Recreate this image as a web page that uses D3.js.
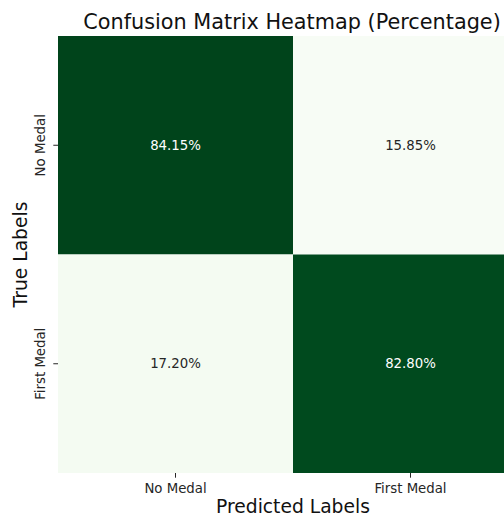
<!DOCTYPE html>
<html>
<head>
<meta charset="utf-8">
<script src="https://cdn.jsdelivr.net/npm/d3@7"></script>
<style>
  body { margin: 0; background: #fff; }
  text { font-family: "DejaVu Sans", sans-serif; }
</style>
</head>
<body>
<div id="chart"></div>
<script>
// DATA
const trueLabels = ["No Medal", "First Medal"];
const predLabels = ["No Medal", "First Medal"];
const percentages = [
  [84.15, 15.85],
  [17.20, 82.80]
];

// CONSTANTS
const WIDTH = 504;
const HEIGHT = 517;
const margin = { top: 36, left: 58 };
const plotW = 470;
const plotH = 437;

const cells = [];
trueLabels.forEach((t, i) => {
  predLabels.forEach((p, j) => {
    cells.push({ row: t, col: p, value: percentages[i][j] });
  });
});

const svg = d3.select("#chart")
  .append("svg")
  .attr("width", WIDTH)
  .attr("height", HEIGHT);

const x = d3.scaleBand().domain(predLabels).range([margin.left, margin.left + plotW]);
const y = d3.scaleBand().domain(trueLabels).range([margin.top, margin.top + plotH]);

const allVals = percentages.flat();
const color = d3.scaleSequential(d3.interpolateGreens)
  .domain([d3.min(allVals), d3.max(allVals)]);

svg.append("g")
  .selectAll("rect")
  .data(cells)
  .enter()
  .append("rect")
  .attr("x", d => x(d.col))
  .attr("y", d => y(d.row))
  .attr("width", x.bandwidth())
  .attr("height", y.bandwidth())
  .attr("fill", d => color(d.value));

svg.append("g")
  .selectAll("text")
  .data(cells)
  .enter()
  .append("text")
  .attr("x", d => x(d.col) + x.bandwidth() / 2)
  .attr("y", d => y(d.row) + y.bandwidth() / 2)
  .attr("text-anchor", "middle")
  .attr("dominant-baseline", "central")
  .attr("font-size", 13.3)
  .attr("fill", d => (d.value > 50 ? "#ffffff" : "#262626"))
  .text(d => d.value.toFixed(2) + "%");

// axes
const xAxis = svg.append("g")
  .attr("transform", `translate(0,${margin.top + plotH})`)
  .call(d3.axisBottom(x).tickSize(4.7).tickPadding(5.9));
const yAxis = svg.append("g")
  .attr("transform", `translate(${margin.left},0)`)
  .call(d3.axisLeft(y).tickSize(4.7).tickPadding(4.7));

[xAxis, yAxis].forEach(g => {
  g.select(".domain").remove();
  g.selectAll(".tick line").attr("stroke", "#262626").attr("stroke-width", 1);
  g.selectAll(".tick text")
    .attr("font-size", 13.3)
    .attr("font-family", "DejaVu Sans, sans-serif")
    .attr("fill", "#262626");
});

yAxis.selectAll(".tick text")
  .attr("transform", "rotate(-90)")
  .attr("text-anchor", "middle")
  .attr("dominant-baseline", "central")
  .attr("x", 0)
  .attr("y", -18)
  .attr("dy", null);

// title + axis labels
svg.append("text")
  .attr("x", 292)
  .attr("y", 29)
  .attr("text-anchor", "middle")
  .attr("font-size", 20.8)
  .attr("fill", "#111")
  .text("Confusion Matrix Heatmap (Percentage)");

svg.append("text")
  .attr("x", margin.left + plotW / 2)
  .attr("y", 513)
  .attr("text-anchor", "middle")
  .attr("font-size", 18.7)
  .attr("fill", "#111")
  .text("Predicted Labels");

svg.append("text")
  .attr("transform", `translate(20,${margin.top + plotH / 2}) rotate(-90)`)
  .attr("text-anchor", "middle")
  .attr("dominant-baseline", "central")
  .attr("font-size", 18.7)
  .attr("fill", "#111")
  .text("True Labels");
</script>
</body>
</html>
